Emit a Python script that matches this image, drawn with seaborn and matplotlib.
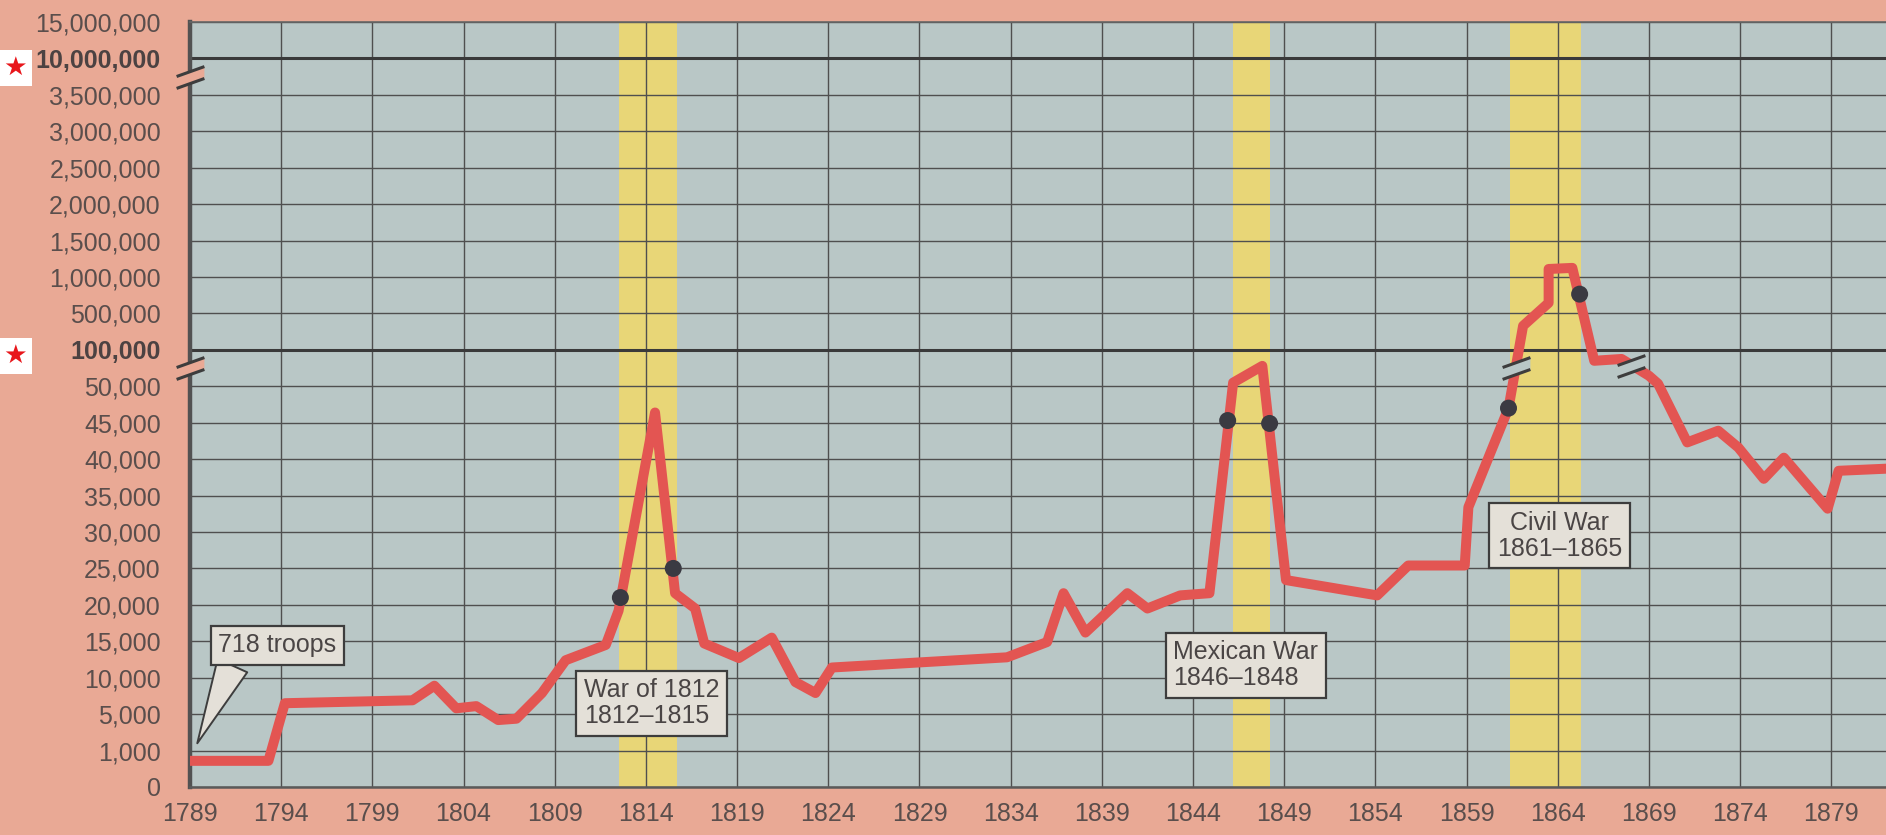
import numpy as np
import pandas as pd
import matplotlib
matplotlib.use("Agg")
import matplotlib.pyplot as plt
from matplotlib.path import Path
import seaborn as sns


# Evenly spaced levels of the printed (broken) y axis
y_levels = [0, 1_000, 5_000, 10_000, 15_000, 20_000, 25_000, 30_000, 35_000,
            40_000, 45_000, 50_000, 100_000, 500_000, 1_000_000, 1_500_000,
            2_000_000, 2_500_000, 3_000_000, 3_500_000, 10_000_000, 15_000_000]
bold_levels = [100_000, 10_000_000]
x_ticks = list(range(1789, 1880, 5))

# Army size
years = [1789, 1793.3, 1794.2, 1801.2, 1802.4, 1803.6, 1804.7, 1805.9, 1806.9,
         1808.3, 1809.6, 1811.8, 1812.5, 1814.5, 1815.6, 1816.7, 1817.2,
         1819.1, 1820.9, 1822.2, 1823.3, 1824.2, 1833.8, 1836.0, 1836.9,
         1838.1, 1840.4, 1841.5, 1843.3, 1844.9, 1846.2, 1847.8, 1849.1,
         1854.1, 1855.8, 1858.9, 1859.1, 1861.3, 1862.1, 1863.5, 1863.5,
         1864.8, 1866.0, 1867.5, 1869.0, 1869.5, 1871.1, 1872.8, 1873.9,
         1875.3, 1876.4, 1878.8, 1879.4, 1882.1]
troops = [718, 718, 6_500, 6_900, 8_900, 5_800, 6_100, 4_350, 4_500,
          7_900, 12_400, 14_500, 19_200, 46_400, 21_600, 19_500, 14_700,
          12_700, 15_500, 9_400, 7_900, 11_400, 12_800, 14_900, 21_600,
          16_200, 21_600, 19_500, 21_300, 21_600, 55_000, 78_000, 23_400,
          21_300, 25_400, 25_400, 33_400, 47_000, 364_000, 645_000, 1_110_000,
          1_125_000, 85_000, 87_500, 64_500, 53_500, 42_300, 43_900, 41_600,
          37_300, 40_200, 33_200, 38_400, 38_700]

# Wars
war_labels = ["War of 1812\n1812–1815", "Mexican War\n1846–1848", "Civil War\n1861–1865"]
war_start = [1812.5, 1846.2, 1861.4]
war_end = [1815.7, 1848.2, 1865.3]
war_label_x = [1814.3, 1846.9, 1864.1]
war_label_y = [6_500, 11_700, 29_500]
war_align = ["left", "left", "center"]
dot_years = [1812.6, 1815.5, 1845.9, 1848.2, 1861.3, 1865.2]
dot_troops = [21_000, 25_000, 45_300, 44_900, 47_000, 765_000]

# Scale breaks
axis_break_levels = [75_000, 6_750_000]
line_break_years = [1861.7, 1868.0]
line_break_levels = [75_000, 78_000]

BG = "#e9a995"
FACE = "#b9c7c6"
YELLOW = "#e8d677"
RED = "#e35552"
DARK = "#3d3d3d"
TXT = "#5a4e4c"
BOX = "#e4e0d8"

pos = np.arange(len(y_levels), dtype=float)


def fwd(v):
    return np.interp(v, y_levels, pos)


def inv(p):
    return np.interp(p, pos, y_levels)


sns.set_theme(style="white")
plt.rcParams["font.family"] = ["Liberation Sans", "DejaVu Sans"]

fig = plt.figure(figsize=(18.86, 8.35), dpi=100, facecolor=BG)
ax = fig.add_axes([190 / 1886, 48 / 835, 1696 / 1886, 765 / 835])
ax.set_facecolor(FACE)
ax.set_yscale("function", functions=(fwd, inv))

# War bands
for s, e in zip(war_start, war_end):
    ax.axvspan(s, e, color=YELLOW, lw=0, zorder=0.2)

df = pd.DataFrame({"year": years, "troops": troops})
sns.lineplot(data=df, x="year", y="troops", estimator=None, sort=False,
             color=RED, linewidth=7.2, ax=ax, zorder=3)
sns.scatterplot(x=dot_years, y=dot_troops, color="#3a3a42", s=150,
                edgecolor="none", ax=ax, zorder=4)

ax.set_xlim(1789, 1882.0)
ax.set_ylim(0, 15_000_000)
ax.set_xticks(x_ticks)
ax.set_yticks(y_levels)
ax.set_yticklabels([f"{v:,}" for v in y_levels])
ax.set_xlabel("")
ax.set_ylabel("")
ax.grid(True, color="#4f4f4f", lw=1.0)
ax.set_axisbelow(True)
for lv in bold_levels:
    ax.axhline(lv, color="#3a3a3a", lw=2.2, zorder=0.6)

ax.tick_params(axis="both", length=0, labelsize=18, labelcolor=TXT)
ax.tick_params(axis="y", pad=21)
ax.tick_params(axis="x", pad=11)
for lab, lv in zip(ax.get_yticklabels(), y_levels):
    if lv in bold_levels:
        lab.set_fontweight("bold")
        lab.set_color("#4c4242")

ax.spines["right"].set_visible(False)
ax.spines["left"].set_color("#525252")
ax.spines["left"].set_linewidth(3.2)
ax.spines["bottom"].set_color("#5a5a5a")
ax.spines["bottom"].set_linewidth(1.8)
ax.spines["top"].set_color("#666666")
ax.spines["top"].set_linewidth(1.2)

# break marks: two slanted strokes, gap filled
strokes = Path([(-14, -11), (14, -1), (-14, 1), (14, 11)],
               [Path.MOVETO, Path.LINETO, Path.MOVETO, Path.LINETO])
gap = Path([(-14, -11), (14, -1), (14, 11), (-14, 1), (-14, -11)])
for xs, ys, fill in [([1789] * len(axis_break_levels), axis_break_levels, BG),
                     (line_break_years, line_break_levels, FACE)]:
    ax.plot(xs, ys, ls="none", marker=gap, markersize=20, mfc=fill,
            mec="none", zorder=5, clip_on=False)
    ax.plot(xs, ys, ls="none", marker=strokes, markersize=20, mfc="none",
            mec=DARK, mew=2.2, zorder=5.1, clip_on=False)

# War labels
for lab, x, y, al in zip(war_labels, war_label_x, war_label_y, war_align):
    ax.text(x, y, lab, ha="center", va="center", multialignment=al,
            fontsize=18, color="#4a4545", linespacing=1.1, zorder=6,
            bbox=dict(boxstyle="square,pad=0.3", fc=BOX, ec=DARK, lw=1.6))

ax.annotate("718 troops", xy=(1789.4, 1_800), xytext=(1793.8, 14_450),
            ha="center", va="center", fontsize=18, color="#4a4545", zorder=6,
            bbox=dict(boxstyle="square,pad=0.3", fc=BOX, ec=DARK, lw=1.6),
            arrowprops=dict(arrowstyle="wedge,tail_width=1.3,shrink_factor=0.5",
                            fc=BOX, ec=DARK, lw=1.4, relpos=(0.15, 0.0),
                            shrinkA=0, shrinkB=0))

# red star markers beside the broken levels
for yf in [1 - 68 / 835, 1 - 356 / 835]:
    fig.text(0.0078, yf, "★", color="#e8161b", fontsize=19, ha="center",
             va="center", family=["DejaVu Sans"],
             bbox=dict(boxstyle="square,pad=0.2", fc="white", ec="none"))

fig.savefig("out.png", dpi=100, facecolor=BG)
